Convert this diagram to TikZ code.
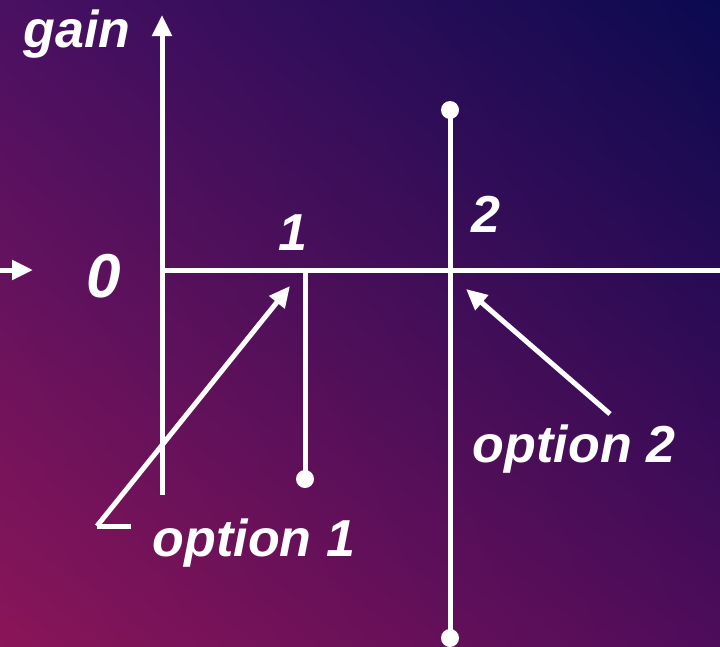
\documentclass[tikz,border=0pt]{standalone}
\usepackage{fontspec}
\setmainfont{Liberation Sans}
\usepackage{tikz}
\usetikzlibrary{arrows.meta, positioning, calc, shadings}
\definecolor{bgul}{RGB}{74,16,98}
\definecolor{bgur}{RGB}{10,10,80}
\definecolor{bgll}{RGB}{138,21,88}
\definecolor{bglr}{RGB}{78,12,90}
\tikzset{
  axis/.style={draw=white, line width=5pt},
  arrow/.style={-{Triangle[length=21pt, width=19pt]}, draw=white, line width=5pt},
  dot/.style={circle, fill=white, minimum size=18pt, inner sep=0pt},
  lbl/.style={text=white, anchor=base, inner sep=0pt,
    font=\bfseries\itshape\fontsize{52}{62}\selectfont},
  biglbl/.style={lbl, font=\bfseries\itshape\fontsize{62}{72}\selectfont}
}

\begin{document}
\begin{tikzpicture}[x=1pt, y=-1pt]
  % background
  \useasboundingbox (0,0) rectangle (720,646);
  \shade[upper left=bgul, upper right=bgur, lower left=bgll, lower right=bglr]
    (0,0) rectangle (720,646);

  % axes
  \coordinate (origin) at (162,270);
  \coordinate (ytop) at (162,15);
  \coordinate (ybot) at (162,495);
  \coordinate (xend) at (720,270);
  \coordinate (in0) at (0,270);
  \coordinate (in1) at (33,270);
  \draw[arrow] (ybot) -- (ytop);
  \draw[axis] (origin) -- (xend);
  \draw[arrow] (in0) -- (in1);

  % option stems
  \coordinate (o1hi) at (305,270);
  \node[dot] (o1lo) at (305,479) {};
  \node[dot] (o2hi) at (450,110) {};
  \node[dot] (o2lo) at (450,638) {};
  \draw[axis] (o1hi) -- (o1lo.center);
  \draw[axis] (o2hi.center) -- (o2lo.center);

  % labels
  \node[lbl] (gain) at (77,47) {gain};
  \node[biglbl] (zero) at (104,297) {0};
  \node[lbl] (one) at (293,250) {1};
  \node[lbl] (two) at (486,232) {2};
  \node[lbl] (opt1) at (254,556) {option 1};
  \node[lbl] (opt2) at (574,462) {option 2};

  % pointers
  \coordinate (p1s) at (97,526);
  \coordinate (p1e) at (131,526);
  \coordinate (p1t) at (290,286);
  \coordinate (p2s) at (610,414);
  \coordinate (p2t) at (466,289);
  \draw[axis] (p1e) -- (p1s);
  \draw[arrow] (p1s) -- (p1t);
  \draw[arrow] (p2s) -- (p2t);
\end{tikzpicture}
\end{document}
